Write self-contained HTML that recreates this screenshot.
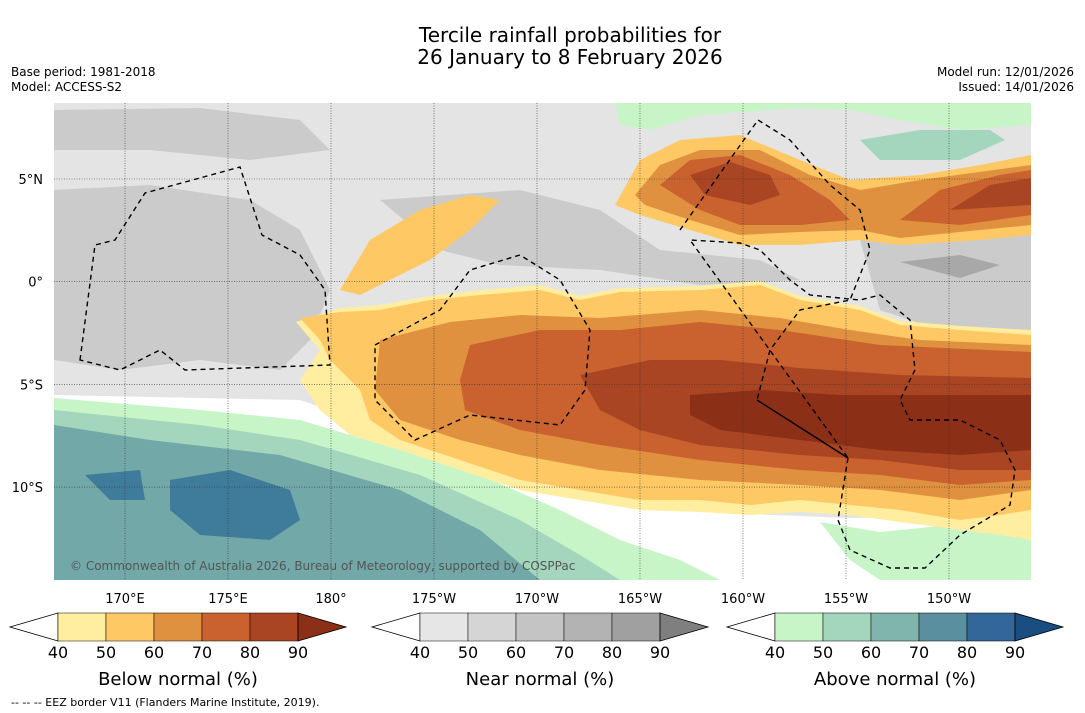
<!DOCTYPE html>
<html><head><meta charset="utf-8"><style>
body{margin:0;background:#fff;width:1085px;height:713px;overflow:hidden;font-family:"DejaVu Sans",sans-serif}
svg{position:absolute;left:0;top:0}
</style></head><body>
<svg id="s" width="1085" height="713" xmlns="http://www.w3.org/2000/svg" font-family="DejaVu Sans, sans-serif">
<text x="570" y="42" text-anchor="middle" font-size="20">Tercile rainfall probabilities for</text>
<text x="570" y="64" text-anchor="middle" font-size="20">26 January to 8 February 2026</text>
<text x="11" y="76" font-size="12">Base period: 1981-2018</text>
<text x="11" y="91" font-size="12">Model: ACCESS-S2</text>
<text x="1074" y="76" font-size="12" text-anchor="end">Model run: 12/01/2026</text>
<text x="1074" y="91" font-size="12" text-anchor="end">Issued: 14/01/2026</text>
<defs><clipPath id="mc"><rect x="54" y="103" width="977" height="477"/></clipPath></defs>
<g clip-path="url(#mc)">
<rect x="54" y="103" width="977" height="477" fill="#e4e4e4"/>
<g fill="#cbcbcb">
<path d="M54,190 L150,185 L250,200 L300,230 L330,290 L310,340 L280,370 L200,360 L120,370 L54,360 Z"/>
<path d="M380,200 L520,190 L600,210 L660,250 L760,260 L800,280 L700,285 L600,270 L500,265 L440,250 Z"/>
<path d="M860,240 L1031,235 L1031,330 L940,330 L880,310 Z"/>
<path d="M54,110 L200,108 L300,120 L330,150 L250,160 L150,150 L54,150 Z"/>
</g>
<path d="M900,262 L960,255 L1000,265 L960,278 Z" fill="#a8a8a8"/>
<path d="M54,395 L300,400 L420,440 L550,490 L700,512 L850,518 L1031,515 L1031,580 L54,580 Z" fill="#fff"/>
<path d="M54,398 L200,410 L300,420 L400,450 L480,475 L560,510 L620,540 L680,560 L720,580 L54,580 Z" fill="#c7f5c7"/>
<path d="M54,410 L200,425 L300,440 L420,475 L520,520 L580,555 L620,580 L54,580 Z" fill="#a3d6bc"/>
<path d="M54,425 L150,440 L280,455 L400,490 L480,530 L540,580 L54,580 Z" fill="#72a8a8"/>
<g fill="#3f7b9a"><path d="M170,480 L230,470 L290,490 L300,520 L270,540 L200,535 L170,510 Z"/><path d="M85,475 L140,470 L145,500 L110,500 Z"/></g>
<path d="M820,522 L880,532 L980,522 L1031,512 L1031,580 L880,580 L850,560 Z" fill="#c7f5c7"/>
<path d="M615,103 L1031,103 L1031,125 L960,130 L900,120 L850,110 L800,108 L700,115 L650,130 L620,125 Z" fill="#c7f5c7"/>
<path d="M860,140 L920,130 L990,130 L1005,140 L960,160 L880,160 Z" fill="#a3d6bc"/>
<path d="M296,322 L340,308 L380,305 L430,296 L480,290 L540,285 L580,296 L620,288 L700,286 L760,281 L800,296 L860,306 L900,321 L960,326 L1031,330 L1031,540 L1000,535 L960,530 L900,522 L850,515 L800,512 L750,515 L700,512 L640,510 L580,500 L520,490 L460,470 L400,450 L350,435 L320,410 L300,380 L320,350 Z" fill="#ffeda0"/>
<path d="M300,318 L340,312 L380,310 L430,300 L480,295 L540,290 L580,300 L620,292 L700,290 L760,285 L800,300 L860,310 L900,325 L960,330 L1031,335 L1031,510 L1000,515 L960,520 L900,510 L850,505 L800,500 L750,505 L700,500 L640,500 L580,490 L520,480 L460,460 L400,440 L370,420 L360,390 L330,360 L320,340 Z" fill="#fec965"/>
<path d="M380,340 L450,322 L520,315 L600,318 L700,310 L780,318 L850,330 L920,340 L1031,345 L1031,490 L960,500 L880,490 L800,485 L700,480 L600,470 L520,455 L460,440 L400,420 L375,390 Z" fill="#e0913f"/>
<path d="M470,345 L540,330 L620,330 L700,322 L780,330 L880,345 L1031,352 L1031,480 L960,485 L880,475 L800,470 L700,460 L600,445 L520,430 L465,410 L460,380 Z" fill="#c9622f"/>
<path d="M580,375 L650,360 L720,360 L800,368 L900,375 L1031,378 L1031,470 L960,470 L880,460 L800,455 L700,445 L640,430 L600,410 Z" fill="#a94522"/>
<path d="M690,395 L760,390 L840,395 L920,395 L1031,395 L1031,450 L960,455 L880,450 L800,440 L720,430 L690,415 Z" fill="#8c2f17"/>
<path d="M340,290 L370,240 L420,210 L470,195 L500,200 L470,230 L430,260 L400,275 L360,295 Z" fill="#fec965"/>
<path d="M615,205 L640,160 L680,140 L740,135 L800,160 L850,180 L920,175 L980,165 L1031,155 L1031,235 L980,240 L900,245 L860,240 L800,245 L740,245 L690,230 L640,215 Z" fill="#fec965"/>
<path d="M635,195 L660,165 L700,150 L760,150 L810,175 L860,190 L920,180 L1031,165 L1031,225 L960,232 L900,238 L860,230 L800,232 L740,235 L690,220 L645,205 Z" fill="#e0913f"/>
<g fill="#c9622f"><path d="M660,185 L690,160 L740,155 L790,175 L830,200 L850,220 L800,225 L740,225 L700,210 Z"/><path d="M900,220 L940,190 L1000,175 L1031,170 L1031,215 L960,225 Z"/></g>
<g fill="#a94522"><path d="M690,175 L730,162 L770,175 L780,195 L750,205 L705,195 Z"/><path d="M950,210 L990,185 L1031,178 L1031,205 Z"/></g>
<g id="grid" stroke="#333" stroke-width="0.6" stroke-dasharray="1,1.5"></g>
<g fill="none" stroke="#000" stroke-width="1.4" stroke-dasharray="5,4">
<path d="M80,360 L95,245 L115,240 L145,193 L240,167 L262,235 L300,255 L325,290 L330,365 L185,370 L160,350 L120,370 Z"/>
<path d="M375,345 L440,310 L470,270 L520,255 L560,280 L590,330 L585,390 L560,425 L470,415 L415,440 L375,400 Z"/>
<path d="M680,230 L758,120 L790,140 L830,185 L860,210 L870,250 L850,300 L800,310 L770,350 L757,400 M848,458 L838,520 L850,550 L890,568 L925,568 L960,535 L1010,505 L1015,470 L1000,440 L960,420 L910,420 L900,400 L915,370 L910,320 L880,295 L860,300 L810,295 L790,280 L760,250 L740,243 L690,240 Z"/>
</g>
<path d="M757,400 L848,458" stroke="#000" stroke-width="1.4" fill="none"/>
<text x="70" y="570" font-size="12" fill="#555">© Commonwealth of Australia 2026, Bureau of Meteorology, supported by COSPPac</text>
</g>
<g id="axes"></g>
<g id="bars"></g>
<text x="11" y="706" font-size="11">--  --  -- EEZ border V11 (Flanders Marine Institute, 2019).</text>
</svg>
<script>
const lonLabels=["170°E","175°E","180°","175°W","170°W","165°W","160°W","155°W","150°W"];
const latLabels=["5°N","0°","5°S","10°S"];
const levels=[40,50,60,70,80,90];
const belowColors=["#ffeda0","#fec965","#e0913f","#c9622f","#a94522","#8c2f17"];
const nearColors=["#e6e6e6","#d5d5d5","#c4c4c4","#b3b3b3","#a0a0a0","#7f7f7f"];
const aboveColors=["#c7f5c7","#a3d6bc","#80b5ae","#5a8f9f","#336699","#1a4d80"];
const NS="http://www.w3.org/2000/svg";
const lonX=i=>125+i*103, latY=i=>179+i*102.7;
function mk(t,a,p){const e=document.createElementNS(NS,t);for(const k in a)e.setAttribute(k,a[k]);p.appendChild(e);return e;}
const g=document.getElementById('grid'),ax=document.getElementById('axes');
lonLabels.forEach((l,i)=>{mk('line',{x1:lonX(i),x2:lonX(i),y1:103,y2:580},g);
const t=mk('text',{x:lonX(i),y:603,'text-anchor':'middle','font-size':13},ax);t.textContent=l;

});
latLabels.forEach((l,i)=>{mk('line',{x1:54,x2:1031,y1:latY(i),y2:latY(i)},g);
const t=mk('text',{x:43,y:latY(i)+5,'text-anchor':'end','font-size':13},ax);t.textContent=l;

});
const bars=document.getElementById('bars');
[[58,belowColors,"Below normal (%)"],[420,nearColors,"Near normal (%)"],[775,aboveColors,"Above normal (%)"]].forEach(([x0,cols,title])=>{
const w=48,y0=613,h=28,n=levels.length-1;
const cb=mk('g',{},bars);


mk('path',{d:`M${x0},${y0} L${x0-48},${y0+h/2} L${x0},${y0+h} Z`,fill:'#fff',stroke:'#000','stroke-width':0.8},cb);
for(let i=0;i<n;i++){const r=mk('rect',{x:x0+i*w,y:y0,width:w,height:h,fill:cols[i],stroke:'#000','stroke-width':0.5},cb);

}
const xe=x0+n*w;
mk('path',{d:`M${xe},${y0} L${xe+48},${y0+h/2} L${xe},${y0+h} Z`,fill:cols[n],stroke:'#000','stroke-width':0.8},cb);
levels.forEach((v,i)=>{const t=mk('text',{x:x0+i*w,y:658,'text-anchor':'middle','font-size':16},cb);t.textContent=v;});
const tt=mk('text',{x:x0+n*w/2,y:685,'text-anchor':'middle','font-size':18},cb);tt.textContent=title;


});
</script>
</body></html>
